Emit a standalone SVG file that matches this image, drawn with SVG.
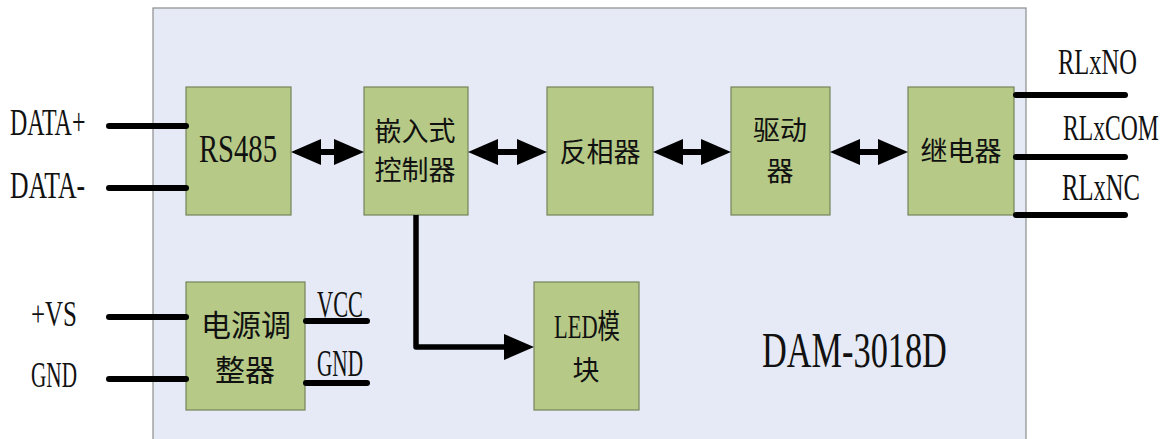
<svg xmlns="http://www.w3.org/2000/svg" width="1167" height="439" viewBox="0 0 1167 439">
<style>
.bg{fill:#E5EAF6;stroke:#8C8C8C;stroke-width:1.2}
.box{fill:#B6C987;stroke:#76845A;stroke-width:1.2}
.lat{font-family:"Liberation Serif","Times New Roman","Noto Sans CJK SC",serif;fill:#111}
.cjk{font-family:"Noto Sans CJK SC","Noto Sans CJK JP",sans-serif;fill:#111;font-size:27px;text-anchor:middle}
.pin{stroke:#000;stroke-width:6;stroke-linecap:round;fill:none}
.dbl{stroke:#000;stroke-width:6;fill:none;marker-start:url(#ah);marker-end:url(#ah)}
.one{stroke:#000;stroke-width:5.5;fill:none;stroke-linejoin:round;marker-end:url(#ah)}
</style>
<defs>
<marker id="ah" viewBox="0 0 30 26" markerWidth="30" markerHeight="26" refX="5" refY="13" orient="auto-start-reverse" markerUnits="userSpaceOnUse">
<path d="M0,0 L30,13 L0,26 Z" fill="#000"/>
</marker>
</defs>
<rect class="bg" x="153" y="8" width="873" height="445"/>

<g id="rs485">
<rect class="box" x="186" y="87" width="105" height="128"/>
<text class="lat" font-size="41" transform="translate(199,162) scale(0.699,1)">RS485</text>
</g>
<g id="controller">
<rect class="box" x="364" y="87" width="104" height="128"/>
<text class="cjk" x="415" y="141">嵌入式</text>
<text class="cjk" x="415" y="180">控制器</text>
</g>
<g id="inverter">
<rect class="box" x="547" y="87" width="106" height="128"/>
<text class="cjk" x="600" y="162">反相器</text>
</g>
<g id="driver">
<rect class="box" x="731" y="87" width="99" height="128"/>
<text class="cjk" x="780" y="140">驱动</text>
<text class="cjk" x="780" y="181">器</text>
</g>
<g id="relay">
<rect class="box" x="908" y="87" width="106" height="128"/>
<text class="cjk" x="961" y="161">继电器</text>
</g>
<g id="power">
<rect class="box" x="186" y="282" width="119" height="128"/>
<text class="cjk" x="246" y="336" style="font-size:30px">电源调</text>
<text class="cjk" x="245" y="381" style="font-size:30px">整器</text>
</g>
<g id="led">
<rect class="box" x="534" y="282" width="105" height="128"/>
<text class="lat" font-size="33" transform="translate(554,338) scale(0.68,1)">LED模</text>
<text class="cjk" x="586" y="380">块</text>
</g>

<g id="labels">
<text class="lat" font-size="37" transform="translate(10,135) scale(0.647,1)">DATA+</text>
<text class="lat" font-size="37" transform="translate(10,198) scale(0.695,1)">DATA-</text>
<text class="lat" font-size="35" transform="translate(31,326) scale(0.713,1)">+VS</text>
<text class="lat" font-size="35" transform="translate(31,387) scale(0.607,1)">GND</text>
<text class="lat" font-size="38" transform="translate(317,317) scale(0.589,1)">VCC</text>
<text class="lat" font-size="38" transform="translate(317,376) scale(0.559,1)">GND</text>
<text class="lat" font-size="36" transform="translate(1058,74) scale(0.681,1)">RLxNO</text>
<text class="lat" font-size="36" transform="translate(1063,140) scale(0.657,1)">RLxCOM</text>
<text class="lat" font-size="37" transform="translate(1062,200) scale(0.666,1)">RLxNC</text>
<text class="lat" font-size="51" transform="translate(762,367) scale(0.673,1)">DAM-3018D</text>
</g>

<g id="connectors">
<line class="pin" x1="109" y1="126" x2="186" y2="126"/>
<line class="pin" x1="109" y1="188" x2="186" y2="188"/>
<line class="pin" x1="109" y1="317" x2="186" y2="317"/>
<line class="pin" x1="109" y1="379" x2="186" y2="379"/>
<line class="pin" x1="306" y1="321" x2="367" y2="321"/>
<line class="pin" x1="306" y1="383" x2="367" y2="383"/>
<line class="pin" x1="1016" y1="95" x2="1125" y2="95"/>
<line class="pin" x1="1016" y1="157" x2="1125" y2="157"/>
<line class="pin" x1="1016" y1="215" x2="1125" y2="215"/>
<line class="dbl" x1="316" y1="152" x2="339" y2="152"/>
<line class="dbl" x1="493" y1="152" x2="522" y2="152"/>
<line class="dbl" x1="678" y1="152" x2="706" y2="152"/>
<line class="dbl" x1="855" y1="152" x2="883" y2="152"/>
<path class="one" d="M416,215 V347 H509"/>
</g>
</svg>
